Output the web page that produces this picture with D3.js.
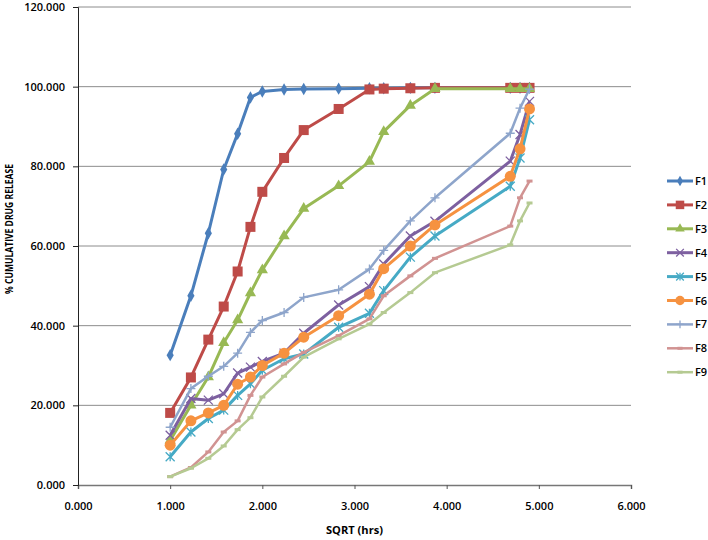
<!DOCTYPE html>
<html>
<head>
<meta charset="utf-8">
<script src="https://cdn.jsdelivr.net/npm/d3@7"></script>
<style>
  body { margin: 0; background: #fff; }
  text { font-family: "Open Sans", "DejaVu Sans", sans-serif; fill: #000; }
</style>
</head>
<body>
<div id="chart"></div>
<script>
// square root of time (hrs)
const sqrtHrs = [1.000, 1.225, 1.414, 1.581, 1.732, 1.871, 2.000, 2.236, 2.449, 2.828, 3.162, 3.317, 3.606, 3.873, 4.690, 4.796, 4.899];

const seriesNames = ["F1", "F2", "F3", "F4", "F5", "F6", "F7", "F8", "F9"];

const F1 = [32.6, 47.5, 63.2, 79.2, 88.2, 97.3, 98.8, 99.3, 99.4, 99.5, 99.6, 99.6, 99.7, 99.7, 99.7, 99.7, 99.7];
const F2 = [18.1, 27.0, 36.5, 44.8, 53.6, 64.8, 73.6, 82.1, 89.1, 94.4, 99.3, 99.5, 99.6, 99.7, 99.7, 99.7, 99.7];
const F3 = [11.2, 20.0, 27.1, 35.7, 41.4, 48.2, 54.0, 62.5, 69.4, 75.1, 81.2, 88.7, 95.3, 99.5, 99.5, 99.5, 99.5];
const F4 = [12.5, 21.7, 21.3, 22.9, 28.1, 29.6, 31.0, 33.1, 38.1, 45.2, 49.8, 55.5, 62.5, 66.2, 81.3, 88.0, 96.3];
const F5 = [7.1, 13.3, 16.7, 18.8, 22.5, 25.4, 28.8, 31.7, 32.9, 39.6, 43.1, 48.8, 57.2, 62.5, 75.0, 82.1, 91.7];
const F6 = [10.0, 16.1, 18.1, 20.0, 25.3, 27.1, 30.0, 33.1, 37.1, 42.5, 47.9, 54.3, 60.0, 65.3, 77.5, 84.4, 94.4];
const F7 = [14.5, 24.2, 27.3, 29.8, 33.1, 38.3, 41.3, 43.3, 47.1, 49.0, 54.2, 58.9, 66.3, 72.1, 88.3, 94.6, 99.4];
const F8 = [2.1, 4.4, 8.3, 13.3, 16.1, 22.5, 27.1, 30.4, 33.3, 37.5, 41.7, 47.5, 52.5, 56.9, 65.0, 72.1, 76.3];
const F9 = [2.1, 4.2, 6.7, 9.8, 13.9, 16.9, 22.1, 27.3, 32.1, 36.7, 40.4, 43.3, 48.3, 53.3, 60.3, 66.3, 70.8];

const xTicks = [0, 1, 2, 3, 4, 5, 6];
const yTicks = [0, 20, 40, 60, 80, 100, 120];

const allSeries = [F1, F2, F3, F4, F5, F6, F7, F8, F9];

// excel-ish styling per series
const styles = [
  { color: "#4a7ebb", marker: "diamond", lw: 3 },
  { color: "#be4b48", marker: "square", lw: 3 },
  { color: "#98b954", marker: "triangle", lw: 3 },
  { color: "#7d60a0", marker: "x", lw: 3 },
  { color: "#46aac5", marker: "star", lw: 3 },
  { color: "#f69240", marker: "circle", lw: 3 },
  { color: "#8ea5cb", marker: "plus", lw: 2.5 },
  { color: "#d19392", marker: "dash", lw: 2.5 },
  { color: "#b5ca92", marker: "dash", lw: 2.5 }
];

const W = 708, H = 540;
const margin = { top: 7, left: 78, right: 77, bottom: 55 };

const svg = d3.select("#chart").append("svg")
  .attr("width", W)
  .attr("height", H);

const x = d3.scaleLinear().domain([0, 6]).range([margin.left, W - margin.right]);
const y = d3.scaleLinear().domain([0, 120]).range([H - margin.bottom, margin.top]);

// gridlines
svg.append("g")
  .selectAll("line")
  .data(yTicks.slice(1))
  .enter().append("line")
  .attr("x1", x(0)).attr("x2", x(6))
  .attr("y1", d => y(d)).attr("y2", d => y(d))
  .attr("stroke", "#8c8c8c")
  .attr("stroke-width", 1);

const fmt = d3.format(".3f");

const xAxis = svg.append("g")
  .attr("transform", `translate(0,${y(0)})`)
  .call(d3.axisBottom(x).tickValues(xTicks).tickFormat(fmt).tickSize(4).tickPadding(13));
xAxis.select(".domain").attr("stroke", "#777").attr("stroke-width", 1.5);
xAxis.selectAll(".tick line").attr("stroke", "#555");

const yAxis = svg.append("g")
  .attr("transform", `translate(${x(0)},0)`)
  .call(d3.axisLeft(y).tickValues(yTicks).tickFormat(fmt).tickSize(5).tickPadding(8));
yAxis.select(".domain").attr("stroke", "#222").attr("stroke-width", 1);
yAxis.selectAll(".tick line").attr("stroke", "#222");

svg.selectAll(".tick text")
  .attr("font-family", "'Open Sans', sans-serif")
  .attr("font-size", "11px")
  .attr("font-weight", 600)
  .attr("fill", "#111");

// axis titles
svg.append("text")
  .attr("x", (x(0) + x(6)) / 2)
  .attr("y", 534)
  .attr("text-anchor", "middle")
  .attr("font-size", "11px")
  .attr("font-weight", 700)
  .attr("textLength", 57)
  .attr("lengthAdjust", "spacingAndGlyphs")
  .text("SQRT (hrs)");

svg.append("text")
  .attr("transform", "translate(13,229) rotate(-90)")
  .attr("text-anchor", "middle")
  .attr("font-size", "11px")
  .attr("font-weight", 700)
  .attr("textLength", 130)
  .attr("lengthAdjust", "spacingAndGlyphs")
  .text("% CUMULATIVE DRUG RELEASE");

function drawMarker(g, type, color, s) {
  if (type === "diamond") {
    g.append("path").attr("d", d3.symbol(d3.symbolDiamond, s * s * 0.55)()).attr("fill", color);
  } else if (type === "square") {
    g.append("rect").attr("x", -s / 2).attr("y", -s / 2).attr("width", s).attr("height", s).attr("fill", color);
  } else if (type === "triangle") {
    g.append("path").attr("d", d3.symbol(d3.symbolTriangle, s * s * 0.45)()).attr("fill", color);
  } else if (type === "circle") {
    g.append("circle").attr("r", s / 2).attr("fill", color);
  } else if (type === "x") {
    const h = s / 2;
    g.append("path").attr("d", `M${-h},${-h}L${h},${h}M${-h},${h}L${h},${-h}`)
      .attr("stroke", color).attr("stroke-width", 1.3);
  } else if (type === "star") {
    const h = s / 2;
    g.append("path").attr("d", `M${-h},${-h}L${h},${h}M${-h},${h}L${h},${-h}M0,${-h}L0,${h}`)
      .attr("stroke", color).attr("stroke-width", 1.3);
  } else if (type === "plus") {
    const h = s / 2;
    g.append("path").attr("d", `M${-h},0L${h},0M0,${-h}L0,${h}`)
      .attr("stroke", color).attr("stroke-width", 1.3);
  } else if (type === "dash") {
    const h = s / 2;
    g.append("path").attr("d", `M${-h},0L${h},0`)
      .attr("stroke", color).attr("stroke-width", 3);
  }
}

const markerSize = { diamond: 9, square: 10, triangle: 11, circle: 11, x: 9, star: 9, plus: 9, dash: 6 };

const line = d3.line().x(d => x(d.x)).y(d => y(d.y));

allSeries.forEach((vals, i) => {
  const st = styles[i];
  const pts = vals.map((v, j) => ({ x: sqrtHrs[j], y: v }));
  const g = svg.append("g");
  g.append("path")
    .datum(pts)
    .attr("d", line)
    .attr("fill", "none")
    .attr("stroke", st.color)
    .attr("stroke-width", st.lw)
    .attr("stroke-linejoin", "round");
  g.selectAll("g.m")
    .data(pts)
    .enter().append("g")
    .attr("class", "m")
    .attr("transform", d => `translate(${x(d.x)},${y(d.y)})`)
    .each(function () { drawMarker(d3.select(this), st.marker, st.color, markerSize[st.marker]); });
});

// legend
const legend = svg.append("g");
seriesNames.forEach((name, i) => {
  const st = styles[i];
  const ly = 181 + i * 23.9;
  legend.append("line")
    .attr("x1", 667).attr("x2", 693)
    .attr("y1", ly).attr("y2", ly)
    .attr("stroke", st.color).attr("stroke-width", st.lw);
  const mg = legend.append("g").attr("transform", `translate(680,${ly})`);
  drawMarker(mg, st.marker, st.color, markerSize[st.marker] * 0.85);
  legend.append("text")
    .attr("x", 695)
    .attr("y", ly + 4)
    .attr("font-size", "11px")
    .attr("font-weight", 600)
    .text(name);
});
</script>
</body>
</html>
